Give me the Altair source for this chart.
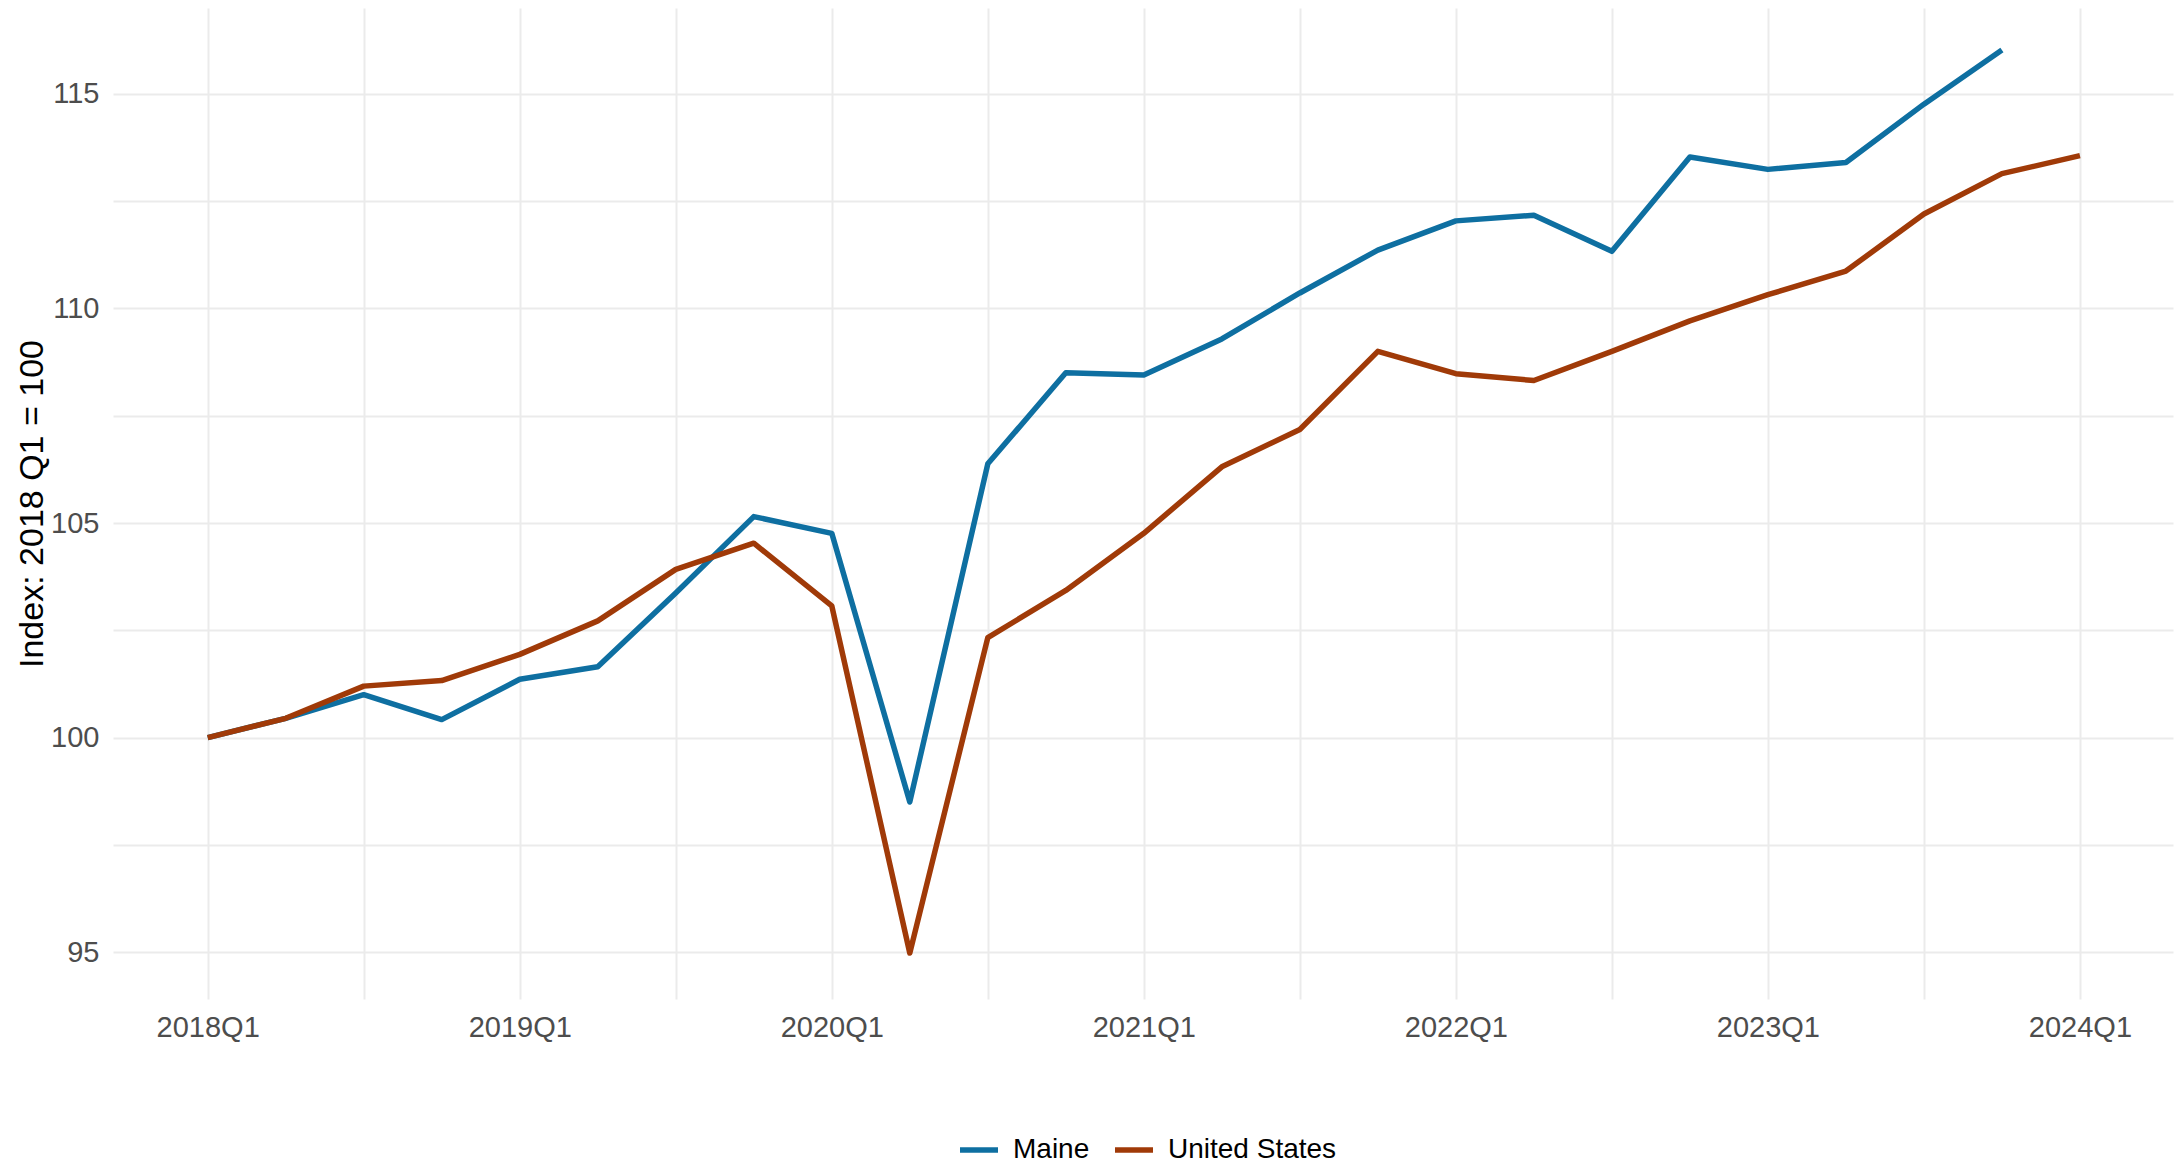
import altair as alt
import pandas as pd

quarters = [
    "2018Q1", "2018Q2", "2018Q3", "2018Q4",
    "2019Q1", "2019Q2", "2019Q3", "2019Q4",
    "2020Q1", "2020Q2", "2020Q3", "2020Q4",
    "2021Q1", "2021Q2", "2021Q3", "2021Q4",
    "2022Q1", "2022Q2", "2022Q3", "2022Q4",
    "2023Q1", "2023Q2", "2023Q3", "2023Q4",
    "2024Q1",
]

maine = [
    100.0, 100.45, 101.0, 100.42,
    101.36, 101.65, 103.37, 105.15,
    104.76, 98.5, 106.38, 108.5,
    108.45, 109.29, 110.36, 111.36,
    112.04, 112.17, 111.33, 113.53,
    113.24, 113.4, 114.76, 116.02,
]

united_states = [
    100.0, 100.45, 101.2, 101.33,
    101.94, 102.72, 103.92, 104.53,
    103.07, 94.98, 102.33, 103.43,
    104.76, 106.31, 107.18, 109.0,
    108.48, 108.32, 109.0, 109.71,
    110.32, 110.87, 112.2, 113.14,
    113.56,
]

series_names = ["Maine", "United States"]
series_colors = ["#0E6FA1", "#A03A08"]

rows = []
for name, vals in zip(series_names, [maine, united_states]):
    for i, v in enumerate(vals):
        rows.append({"t": i, "quarter": quarters[i], "region": name, "value": v})
df = pd.DataFrame(rows)

x_grid = list(range(0, 25, 2))
y_grid = [95 + 2.5 * k for k in range(9)]

chart = (
    alt.Chart(df)
    .mark_line(strokeWidth=5.5, strokeJoin="round")
    .encode(
        x=alt.X(
            "t:Q",
            scale=alt.Scale(domain=[-1.214, 25.193], nice=False, zero=False),
            axis=alt.Axis(
                title=None,
                values=x_grid,
                labelExpr="datum.value % 4 == 0 ? (2018 + datum.value / 4) + 'Q1' : ''",
                labelPadding=14,
            ),
        ),
        y=alt.Y(
            "value:Q",
            scale=alt.Scale(domain=[93.91, 117.0], nice=False, zero=False),
            axis=alt.Axis(
                title="Index: 2018 Q1 = 100",
                values=y_grid,
                labelExpr="datum.value % 5 == 0 ? datum.label : ''",
                labelPadding=14,
                titleFontSize=34,
                titleFontWeight="normal",
                titleColor="#000000",
                titleX=-71,
                titleBaseline="alphabetic",
            ),
        ),
        color=alt.Color(
            "region:N",
            scale=alt.Scale(domain=series_names, range=series_colors),
            legend=alt.Legend(
                title=None,
                orient="none",
                direction="horizontal",
                legendX=844,
                legendY=1120,
                symbolType="stroke",
                symbolSize=1444,
                symbolStrokeWidth=5.5,
                labelFontSize=28,
                labelColor="#000000",
                labelOffset=12,
                labelLimit=0,
                columnPadding=14,
                padding=0,
                labelFont="Liberation Sans",
            ),
        ),
        detail="region:N",
    )
    .properties(
        width=2060,
        height=991,
        autosize=alt.AutoSizeParams(type="none"),
        padding={"left": 105, "top": 0, "right": 1, "bottom": 168},
    )
    .configure_view(stroke=None)
    .configure_axis(
        domain=False,
        ticks=False,
        grid=True,
        gridColor="#EBEBEB",
        gridWidth=2,
        labelFontSize=29,
        labelColor="#4D4D4D",
        labelFont="Liberation Sans",
        titleFont="Liberation Sans",
    )
)

chart.save("out.html", embed_options={"renderer": "svg", "actions": False})
